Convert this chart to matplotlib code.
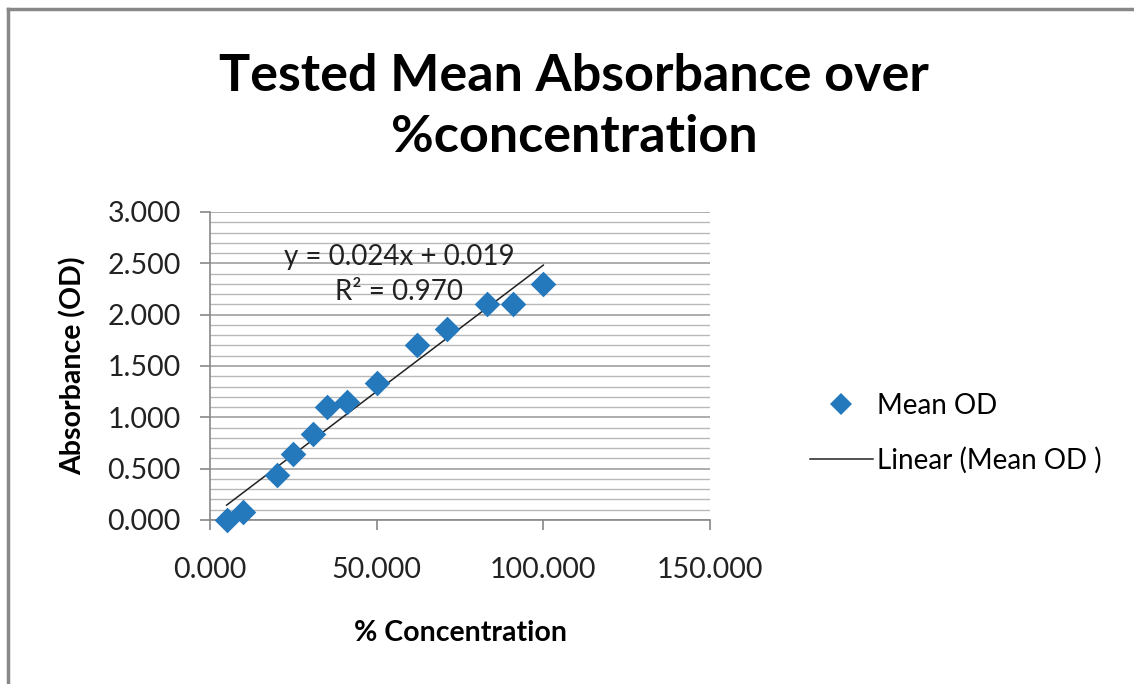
import matplotlib
matplotlib.use("Agg")
import matplotlib.pyplot as plt
from matplotlib.ticker import MultipleLocator, FormatStrFormatter
from matplotlib.lines import Line2D
import numpy as np

plt.rcParams['font.family'] = ['Lato', 'DejaVu Sans']

# data
concentration = [5, 10, 20, 25, 31, 35, 41, 50, 62, 71, 83, 91, 100]
mean_od = [0.00, 0.08, 0.44, 0.64, 0.84, 1.10, 1.15, 1.33, 1.70, 1.86, 2.10, 2.10, 2.30]
eq_text = "y = 0.024x + 0.019"
r2_text = "R² = 0.970"

fig = plt.figure(figsize=(11.34, 6.84), dpi=100)
ax = fig.add_axes([210/1134, 1 - 520/684, 500/1134, 308/684])

# linear trendline
slope, intercept = np.polyfit(concentration, mean_od, 1)
xs = np.array([min(concentration), max(concentration)])
ax.plot(xs, slope * xs + intercept, color='#222222', lw=1.1, zorder=3)

ax.scatter(concentration, mean_od, marker='D', s=170, color='#2478bc', zorder=4,
           linewidths=0, clip_on=False)

ax.set_xlim(0, 150)
ax.set_ylim(0, 3)
ax.xaxis.set_major_locator(MultipleLocator(50))
ax.yaxis.set_major_locator(MultipleLocator(0.5))
ax.yaxis.set_minor_locator(MultipleLocator(0.1))
ax.xaxis.set_major_formatter(FormatStrFormatter('%.3f'))
ax.yaxis.set_major_formatter(FormatStrFormatter('%.3f'))

ax.grid(which='major', axis='y', color='#a0a0a0', lw=1.2)
ax.grid(which='minor', axis='y', color='#b8b8b8', lw=1.0)
ax.set_axisbelow(True)

for s in ['top', 'right']:
    ax.spines[s].set_visible(False)
for s in ['left', 'bottom']:
    ax.spines[s].set_color('#888888')
    ax.spines[s].set_linewidth(1.2)
ax.tick_params(axis='both', which='major', length=7, width=1.2, color='#888888',
               labelsize=20.5, labelcolor='#222222')
ax.tick_params(axis='x', which='major', pad=20)
ax.tick_params(axis='y', which='major', pad=14)
ax.tick_params(axis='y', which='minor', length=0)

ax.set_xlabel('% Concentration', fontsize=20.5, fontweight='bold', labelpad=26)
ax.set_ylabel('Absorbance (OD)', fontsize=20.5, fontweight='bold', labelpad=15)

ax.text(399/1134, 1 - 257/684, eq_text, transform=fig.transFigure, ha='center',
        va='center', fontsize=20, color='#222222')
ax.text(399/1134, 1 - 292/684, r2_text, transform=fig.transFigure, ha='center',
        va='center', fontsize=20, color='#222222')

fig.text(574/1134, 1 - 107/684, 'Tested Mean Absorbance over\n%concentration',
         ha='center', va='center', fontsize=37.5, fontweight='bold',
         linespacing=1.35)

handles = [Line2D([], [], marker='D', color='#2478bc', ls='none', markersize=11,
                  markeredgewidth=0),
           Line2D([], [], color='#222222', lw=1.1)]
fig.legend(handles, ['Mean OD', 'Linear (Mean OD )'], loc='center left',
           bbox_to_anchor=(810/1134, 1 - 433/684), frameon=False, fontsize=20,
           labelspacing=1.0, handlelength=2.25, handletextpad=0.15,
           borderaxespad=0, borderpad=0)

# chart area border (left and top only)
fig.add_artist(Line2D([8/1134, 8/1134], [0, 1 - 9/684], color='#888888', lw=2.5,
                      transform=fig.transFigure))
fig.add_artist(Line2D([8/1134, 1], [1 - 9/684, 1 - 9/684], color='#888888', lw=2.5,
                      transform=fig.transFigure))

fig.savefig('out.png', dpi=100)
